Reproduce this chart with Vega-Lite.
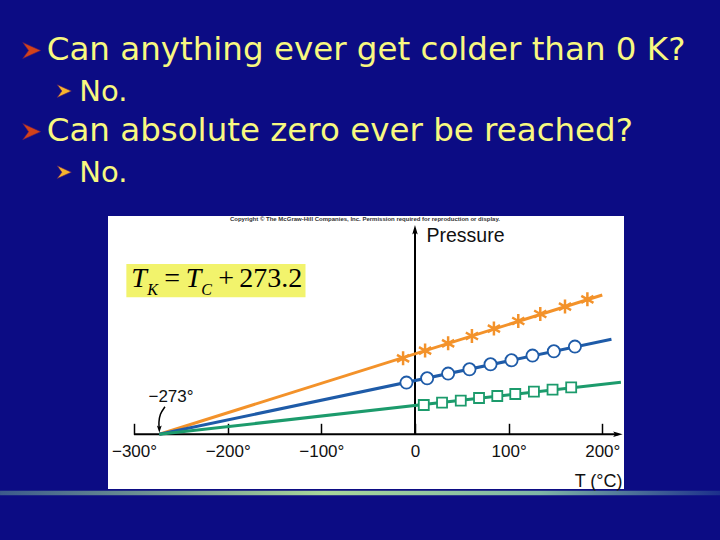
{
  "$schema": "https://vega.github.io/schema/vega-lite/v6.json",
  "width": 516,
  "height": 273,
  "autosize": {"type": "none"},
  "padding": {"left": 108, "top": 216, "right": 96, "bottom": 51},
  "background": "#0c0c84",
  "config": {"view": {"stroke": null, "fill": "#ffffff"}, "font": "Liberation Sans"},
  "datasets": {
    "lines": [
      {"series": "A", "T": -273, "P": 0},
      {"series": "A", "T": 200, "P": 139.3},
      {"series": "B", "T": -273, "P": 0},
      {"series": "B", "T": 209.8, "P": 95},
      {"series": "C", "T": -273, "P": 0},
      {"series": "C", "T": 219.9, "P": 52}
    ],
    "points": [
      {"series": "A", "T": -12.7, "P": 76},
      {"series": "A", "T": 10.8, "P": 83.7},
      {"series": "A", "T": 35.4, "P": 91},
      {"series": "A", "T": 60.8, "P": 98.3},
      {"series": "A", "T": 84.3, "P": 105.7},
      {"series": "A", "T": 110.3, "P": 113.3},
      {"series": "A", "T": 133.8, "P": 120.3},
      {"series": "A", "T": 160.2, "P": 127.7},
      {"series": "A", "T": 184.1, "P": 135},
      {"series": "B", "T": -9.1, "P": 51.7},
      {"series": "B", "T": 13, "P": 56},
      {"series": "B", "T": 35.4, "P": 60.7},
      {"series": "B", "T": 58.2, "P": 65},
      {"series": "B", "T": 80.7, "P": 70},
      {"series": "B", "T": 103.1, "P": 74},
      {"series": "B", "T": 125.5, "P": 78.7},
      {"series": "B", "T": 148.3, "P": 83},
      {"series": "B", "T": 170.8, "P": 87.7},
      {"series": "C", "T": 9.4, "P": 29.3},
      {"series": "C", "T": 28.9, "P": 31.7},
      {"series": "C", "T": 48.9, "P": 33.7},
      {"series": "C", "T": 68.4, "P": 36.3},
      {"series": "C", "T": 87.9, "P": 38.3},
      {"series": "C", "T": 107.1, "P": 40.3},
      {"series": "C", "T": 127, "P": 42.7},
      {"series": "C", "T": 146.9, "P": 44.7},
      {"series": "C", "T": 166.8, "P": 47}
    ],
    "bullets": [
      {"line": 1, "level": 1, "text": "Can anything ever get colder than 0 K?"},
      {"line": 2, "level": 2, "text": "No."},
      {"line": 3, "level": 1, "text": "Can absolute zero ever be reached?"},
      {"line": 4, "level": 2, "text": "No."}
    ]
  },
  "layer": [
    {
      "encoding": {
        "x": {
          "field": "T",
          "type": "quantitative",
          "scale": {"domain": [-327.8, 223.2], "nice": false, "zero": false},
          "axis": {
            "orient": "bottom",
            "offset": -54.7,
            "domain": false,
            "grid": false,
            "values": [-300, -200, -100, 0, 100, 200],
            "tickSize": -11,
            "tickColor": "#000000",
            "tickWidth": 1.5,
            "labelExpr": "datum.value == 0 ? '0' : replace(format(datum.value, 'd'), '-', '−') + '°'",
            "labelFont": "Liberation Sans",
            "labelFontSize": 17,
            "labelColor": "#111111",
            "labelPadding": 20.5,
            "labelFlush": false,
            "labelOverlap": false,
            "title": "T (°C)",
            "titleFont": "Liberation Sans",
            "titleFontSize": 18,
            "titleFontWeight": "normal",
            "titleColor": "#111111",
            "titleAnchor": "end",
            "titleAlign": "right",
            "titleBaseline": "alphabetic",
            "titleX": 514,
            "titleY": 52
          }
        },
        "y": {
          "field": "P",
          "type": "quantitative",
          "scale": {"domain": [-54.7, 218.3], "nice": false, "zero": false},
          "axis": {
            "orient": "left",
            "offset": -307,
            "domain": false,
            "ticks": false,
            "labels": false,
            "grid": false,
            "title": "Pressure",
            "titleAngle": 0,
            "titleAlign": "left",
            "titleBaseline": "alphabetic",
            "titleX": 11,
            "titleY": 25.5,
            "titleFont": "Liberation Sans",
            "titleFontSize": 19.5,
            "titleFontWeight": "normal",
            "titleColor": "#111111"
          }
        }
      },
      "layer": [
        {
          "data": {"values": [
            {"T": -443.1, "T2": 325.7, "P": -56.5, "P2": -61}
          ]},
          "mark": {
            "type": "rect",
            "fill": {
              "gradient": "linear",
              "x1": 0, "y1": 0, "x2": 1, "y2": 0,
              "stops": [
                {"offset": 0, "color": "#3c5a8c"},
                {"offset": 0.45, "color": "#a9d69a"},
                {"offset": 0.75, "color": "#7fb6a6"},
                {"offset": 1, "color": "#1c2f8c"}
              ]
            }
          },
          "encoding": {"x2": {"field": "T2"}, "y2": {"field": "P2"}}
        },
        {
          "data": {"values": [
            {"T": -53.4, "P": 213.6}
          ]},
          "mark": {"type": "text", "text": "Copyright © The McGraw-Hill Companies, Inc. Permission required for reproduction or display.", "font": "Liberation Sans", "fontSize": 6, "fontWeight": "bold", "align": "center", "baseline": "alphabetic", "color": "#333333"}
        },
        {
          "data": {"values": [
            {"T": -308.2, "T2": -116.9, "P": 137, "P2": 170.3}
          ]},
          "mark": {"type": "rect", "fill": "#f2f36c"},
          "encoding": {"x2": {"field": "T2"}, "y2": {"field": "P2"}}
        },
        {
          "data": {"values": [
            {"T": -300, "T2": 217, "P": 0, "P2": 0},
            {"T": 0, "T2": 0, "P": 0, "P2": 205}
          ]},
          "mark": {"type": "rule", "color": "#000000", "strokeWidth": 2},
          "encoding": {"x2": {"field": "T2"}, "y2": {"field": "P2"}}
        },
        {
          "data": {"values": [{"T": 0, "P": 204.3}]},
          "mark": {"type": "point", "shape": "M0,-1L0.55,0.9L0,0.5L-0.55,0.9Z", "filled": true, "color": "#000000", "size": 100, "opacity": 1}
        },
        {
          "data": {"values": [{"T": 216.4, "P": 0}]},
          "mark": {"type": "point", "shape": "M1,0L-0.9,0.55L-0.5,0L-0.9,-0.55Z", "filled": true, "color": "#000000", "size": 100, "opacity": 1}
        },
        {
          "data": {"name": "lines"},
          "mark": {"type": "line", "strokeWidth": 3},
          "encoding": {
            "color": {
              "field": "series",
              "type": "nominal",
              "scale": {"domain": ["A", "B", "C"], "range": ["#f3922a", "#1e5ba8", "#1c9b6c"]},
              "legend": null
            }
          }
        },
        {
          "data": {"name": "points"},
          "mark": {"type": "point", "filled": false, "fill": "#ffffff", "opacity": 1},
          "encoding": {
            "stroke": {
              "field": "series",
              "type": "nominal",
              "scale": {"domain": ["A", "B", "C"], "range": ["#f3922a", "#1e5ba8", "#1c9b6c"]},
              "legend": null
            },
            "shape": {
              "field": "series",
              "type": "nominal",
              "scale": {"domain": ["A", "B", "C"], "range": ["M0,-1L0,1M-0.87,-0.5L0.87,0.5M-0.87,0.5L0.87,-0.5", "circle", "square"]},
              "legend": null
            },
            "size": {
              "field": "series",
              "type": "ordinal",
              "scale": {"domain": ["A", "B", "C"], "range": [196, 100, 90]},
              "legend": null
            },
            "strokeWidth": {"condition": {"test": "datum.series == 'A'", "value": 2.5}, "value": 1.8}
          }
        },
        {
          "data": {"values": [{"T": -260.5, "P": 32.6}]},
          "mark": {"type": "text", "text": "−273°", "font": "Liberation Sans", "fontSize": 17, "align": "center", "baseline": "alphabetic", "color": "#111111"}
        },
        {
          "data": {"values": [
            {"T": -267, "P": 27.6, "i": 1},
            {"T": -271.8, "P": 20, "i": 2},
            {"T": -273.4, "P": 12, "i": 3},
            {"T": -273, "P": 6, "i": 4}
          ]},
          "mark": {"type": "line", "color": "#000000", "strokeWidth": 1.5, "interpolate": "cardinal"},
          "encoding": {"order": {"field": "i", "type": "quantitative"}}
        },
        {
          "data": {"values": [{"T": -273, "P": 5.6}]},
          "mark": {"type": "point", "shape": "M0,1L-0.6,-0.8L0,-0.4L0.6,-0.8Z", "filled": true, "color": "#000000", "size": 64, "opacity": 1}
        },
        {
          "data": {"values": [{"T": -308.2, "P": 147}]},
          "layer": [
            {"mark": {"type": "text", "text": "T", "font": "Liberation Serif", "fontStyle": "italic", "fontSize": 28, "align": "left", "baseline": "alphabetic", "dx": 5, "color": "#000000"}},
            {"mark": {"type": "text", "text": "K", "font": "Liberation Serif", "fontStyle": "italic", "fontSize": 16, "align": "left", "baseline": "alphabetic", "dx": 21, "dy": 7.5, "color": "#000000"}},
            {"mark": {"type": "text", "text": "=", "font": "Liberation Serif", "fontSize": 28, "align": "left", "baseline": "alphabetic", "dx": 38, "color": "#000000"}},
            {"mark": {"type": "text", "text": "T", "font": "Liberation Serif", "fontStyle": "italic", "fontSize": 28, "align": "left", "baseline": "alphabetic", "dx": 59.5, "color": "#000000"}},
            {"mark": {"type": "text", "text": "C", "font": "Liberation Serif", "fontStyle": "italic", "fontSize": 16, "align": "left", "baseline": "alphabetic", "dx": 75, "dy": 7.5, "color": "#000000"}},
            {"mark": {"type": "text", "text": "+", "font": "Liberation Serif", "fontSize": 28, "align": "left", "baseline": "alphabetic", "dx": 92, "color": "#000000"}},
            {"mark": {"type": "text", "text": "273.2", "font": "Liberation Serif", "fontSize": 28, "align": "left", "baseline": "alphabetic", "dx": 113, "color": "#000000"}}
          ]
        }
      ]
    },
    {
      "data": {"name": "bullets"},
      "encoding": {
        "x": {"field": "level", "type": "quantitative", "scale": {"domain": [1, 2], "range": [-61.3, -28.7], "nice": false, "zero": false}, "axis": null},
        "y": {"field": "line", "type": "quantitative", "scale": {"domain": [1, 4], "range": [-156, -34.3], "nice": false, "zero": false}, "axis": null}
      },
      "layer": [
        {
          "mark": {"type": "text", "align": "left", "baseline": "alphabetic", "font": "DejaVu Sans", "color": "#f8f880"},
          "encoding": {
            "text": {"field": "text"},
            "size": {"condition": {"test": "datum.level == 1", "value": 32.5}, "value": 29}
          }
        },
        {
          "mark": {"type": "point", "shape": "M1,0L-1,-0.9L-0.35,0L-1,0.9Z", "filled": true, "opacity": 1, "xOffset": -15, "yOffset": -9.5, "stroke": "#5a1a60", "strokeWidth": 0.6},
          "encoding": {
            "fill": {"condition": {"test": "datum.level == 1", "value": "#d2421a"}, "value": "#f6b52e"},
            "size": {"condition": {"test": "datum.level == 1", "value": 324}, "value": 200}
          }
        }
      ]
    }
  ],
  "resolve": {"scale": {"x": "independent", "y": "independent", "size": "independent"}}
}
